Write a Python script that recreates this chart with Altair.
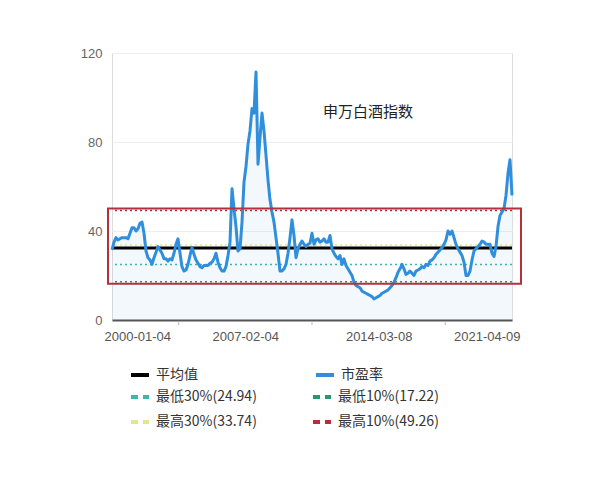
import altair as alt
import pandas as pd

FONT = "Noto Sans CJK SC"

# ---------------- data ----------------
title_text = "申万白酒指数"
start_date = "2000-01-04"
end_date = "2021-04-09"
tick_label_dates = ["2000-01-04", "2007-02-04", "2014-03-08", "2021-04-09"]

pe_values = [
    31.5, 35, 37, 36, 36.5, 37, 37, 37, 36.5, 39,
    41.5, 41.5, 40, 41, 43.5, 44, 39, 31, 28, 27,
    25, 28, 30.5, 33, 31.5, 30, 27.5, 27.5, 26.5, 27.5,
    27, 30, 34, 36.5, 30, 24, 22, 22.5, 25, 29,
    32.5, 29.5, 27, 25.5, 24, 23.5, 24.5, 24.5, 24.5, 25.5,
    26, 27.5, 30, 26, 23.5, 22, 22, 24, 29, 35,
    59, 50, 42, 31, 32, 44, 62, 69, 79, 85,
    95, 93, 111.5, 70, 82, 93, 85, 74, 63, 54,
    48.5, 44, 37, 30, 22, 22, 23, 25, 30, 37,
    45, 38, 28, 32, 34, 35.5, 34, 33, 34, 34.5,
    39, 34, 36, 36.5, 35, 35.5, 36.5, 35, 35, 38,
    32, 30, 28.5, 27.5, 29, 25, 27.5, 24.5, 23, 21.5,
    20, 17, 15.5, 15, 14.5, 13, 12.5, 12, 11.5, 11,
    10.5, 9.5, 10, 10.5, 11, 12, 12.5, 13, 13.5, 14.5,
    15.5, 17, 19, 21.5, 23, 25, 23, 20.5, 21, 22,
    21, 20, 22, 22.5, 23, 24, 23.5, 25, 24.5, 26.5,
    27, 28, 29.5, 30.5, 31.5, 32.5, 34, 36, 40, 38.5,
    40, 37, 34, 32, 30.5, 29, 26, 20, 20, 22,
    27, 31, 32, 33, 34, 35.5, 35, 34, 34, 34,
    30, 28.5, 33, 42, 47, 48.5, 50, 56, 66, 72,
    56,
]

mean_label = "平均值"
pe_label = "市盈率"
mean_value = 32.4
# legend order (filled column by column): left column, then right column
band_labels = ["最低30%(24.94)", "最高30%(33.74)", "最低10%(17.22)", "最高10%(49.26)"]
band_values = [24.94, 33.74, 17.22, 49.26]

main_colors = ["#000000", "#2f8fdc"]
band_colors = ["#3bb5ae", "#e4e68c", "#2f936b", "#b3303c"]
y_ticks = [0, 40, 80, 120]

# ---------------- tables ----------------
def ms(s):
    return int(pd.Timestamp(s).value // 10**6)

dates = pd.date_range(start_date, end_date, periods=len(pe_values))
pe_df = pd.DataFrame({
    "t": [int(d.value // 10**6) for d in dates],
    "pe": pe_values,
    "series": pe_label,
})
band_df = pd.DataFrame({"series": band_labels, "v": band_values})
mean_df = pd.DataFrame({"series": [mean_label], "v": [mean_value]})
box_df = pd.DataFrame({"lo": [min(band_values)], "hi": [max(band_values)]})
tick_ms = [ms(d) for d in tick_label_dates]
mid_df = pd.DataFrame({"t": [(a + b) // 2 for a, b in zip(tick_ms[:-1], tick_ms[1:])]})
title_df = pd.DataFrame({"txt": [title_text]})

W, H = 400, 267

xs = alt.Scale(type="utc", domain=[tick_ms[0], tick_ms[-1]], nice=False)
ys = alt.Scale(domain=[0, 120], nice=False)
main_scale = alt.Scale(domain=[mean_label, pe_label], range=main_colors)
band_scale = alt.Scale(domain=band_labels, range=band_colors)

x_axis = alt.Axis(
    values=tick_ms, format="%Y-%m-%d", labelFlush=True, labelFlushOffset=8,
    ticks=False, grid=False, domainColor="#555555", domainWidth=2,
    labelColor="#555555", labelFontSize=13, labelPadding=10, title=None,
)
y_axis = alt.Axis(
    values=y_ticks, domain=False, ticks=False, grid=True, gridColor="#eeeeee",
    labelColor="#666666", labelFontSize=13, labelPadding=10, title=None,
)

common_legend = dict(
    title=None, orient="none", columns=2, symbolType="stroke", symbolSize=324,
    symbolStrokeWidth=4, labelFontSize=14, labelColor="#333333", labelFont=FONT,
    labelOffset=5, rowPadding=6, legendX=17,
)
main_legend = alt.Legend(legendY=311, columnPadding=110, symbolDash=[1, 0], **common_legend)
band_legend = alt.Legend(legendY=333, columnPadding=48, symbolDash=[7, 5], **common_legend)

area = alt.Chart(pe_df).mark_area(color="#2f8fdc", opacity=0.06).encode(
    x=alt.X("t:T", scale=xs, axis=x_axis),
    y=alt.Y("pe:Q", scale=ys, axis=y_axis),
)

bands = alt.Chart(band_df).mark_rule(strokeWidth=1.5, strokeDash=[2, 3]).encode(
    y=alt.Y("v:Q", scale=ys),
    stroke=alt.Stroke("series:N", scale=band_scale, legend=band_legend),
)

mean_rule = alt.Chart(mean_df).mark_rule(strokeWidth=3).encode(
    y=alt.Y("v:Q", scale=ys),
    color=alt.Color("series:N", scale=main_scale, legend=main_legend),
)

line = alt.Chart(pe_df).mark_line(strokeWidth=3, strokeJoin="round").encode(
    x=alt.X("t:T", scale=xs),
    y=alt.Y("pe:Q", scale=ys),
    color=alt.Color("series:N", scale=main_scale, legend=main_legend),
)

box = alt.Chart(box_df).mark_rect(
    fillOpacity=0, stroke="#b3303c", strokeWidth=2, yOffset=2, y2Offset=-2
).encode(
    x=alt.value(-4), x2=alt.value(W + 9),
    y=alt.Y("lo:Q", scale=ys), y2="hi:Q",
)

ticks = alt.Chart(mid_df).mark_rule(color="#bbbbbb", strokeWidth=1).encode(
    x=alt.X("t:T", scale=xs),
    y=alt.value(H + 1), y2=alt.value(H + 5),
)

title = alt.Chart(title_df).mark_text(
    align="left", baseline="middle", fontSize=15, color="#222222", font=FONT
).encode(text="txt:N", x=alt.value(211), y=alt.value(59))

chart = alt.layer(area, bands, mean_rule, line, box, ticks, title).properties(
    width=W, height=H,
    autosize=alt.AutoSizeParams(type="none"),
    padding={"left": 104, "top": 45, "right": 80, "bottom": 152},
).configure_view(stroke=None).configure_axis(labelFont=FONT).configure(
    background="white"
)

chart.save("out.html", embed_options={"renderer": "svg", "actions": False})
